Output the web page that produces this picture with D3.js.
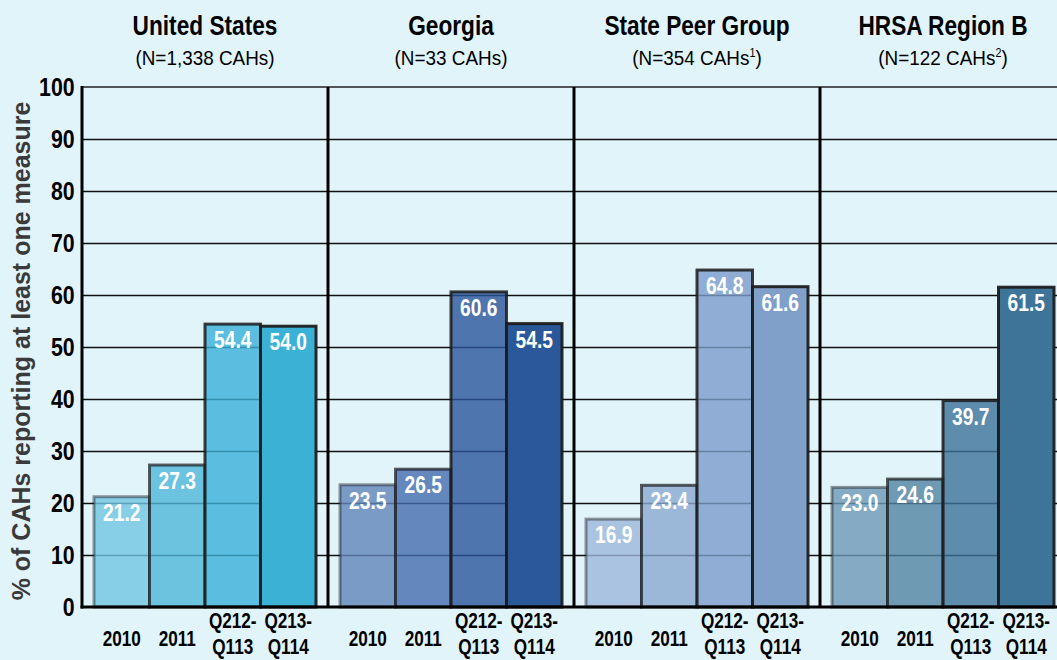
<!DOCTYPE html>
<html>
<head>
<meta charset="utf-8">
<script src="https://cdn.jsdelivr.net/npm/d3@7"></script>
<style>
  body { margin: 0; background: #e1f4fa; }
  svg { display: block; font-family: "Liberation Sans", Arial, sans-serif; }
</style>
</head>
<body>
<svg id="chart" width="1057" height="660"></svg>
<script>
// groups shown side by side
const groups = ["United States", "Georgia", "State Peer Group", "HRSA Region B"];
// subtitle pieces: text, superscript, closing
const groupNotes = [
	["(N=1,338 CAHs", "", ")"],
	["(N=33 CAHs", "", ")"],
	["(N=354 CAHs", "1", ")"],
	["(N=122 CAHs", "2", ")"]
];
const periods = ["2010", "2011", "Q212-Q113", "Q213-Q114"];
const periodLines = [["2010"], ["2011"], ["Q212-", "Q113"], ["Q213-", "Q114"]];

const usValues = [21.2, 27.3, 54.4, 54.0];
const georgiaValues = [23.5, 26.5, 60.6, 54.5];
const peerValues = [16.9, 23.4, 64.8, 61.6];
const regionBValues = [23.0, 24.6, 39.7, 61.5];

const usColors = ["#6fc6e1", "#4fb7d9", "#39afd8", "#3cb1d6"];
const georgiaColors = ["#6185ba", "#456cae", "#2b559b", "#2b5898"];
const peerColors = ["#9cb7da", "#8aa9d1", "#7c9ccc", "#809fc9"];
const regionBColors = ["#6e99b7", "#5183a3", "#3c729a", "#3f7499"];

const yTicks = [0, 10, 20, 30, 40, 50, 60, 70, 80, 90, 100];

const seriesValues = [usValues, georgiaValues, peerValues, regionBValues];
const seriesColors = [usColors, georgiaColors, peerColors, regionBColors];

const margin = { left: 82, top: 87, bottom: 607 };
const panelWidth = 246;

const svg = d3.select("#chart");

const y = d3.scaleLinear().domain([0, 100]).range([margin.bottom, margin.top]);
const x0 = d3.scaleBand().domain(groups).range([margin.left, margin.left + panelWidth * groups.length]);
const x1 = d3.scaleBand().domain(periods).range([12, panelWidth - 12]);

// condensed look: squeeze text horizontally
function squeezed(sel, x, yPos, sx) {
	return sel.append("text")
		.attr("transform", "translate(" + x + "," + yPos + ") scale(" + sx + ",1)");
}

// gridlines
svg.append("g")
	.attr("class", "grid")
	.attr("transform", "translate(" + margin.left + ",0)")
	.call(d3.axisLeft(y).tickValues(yTicks.slice(1, -1)).tickSize(-(1057 - margin.left)).tickFormat(""))
	.call(g => g.select(".domain").remove())
	.selectAll("line")
	.attr("stroke", "#111")
	.attr("stroke-width", 1.3);

// top line
svg.append("line")
	.attr("x1", margin.left).attr("x2", 1057)
	.attr("y1", y(100)).attr("y2", y(100))
	.attr("stroke", "#222").attr("stroke-width", 1.3);

// bars
const strokeOp = [0.45, 0.7, 0.85, 0.92];
const fillOp = [0.8, 0.8, 0.8, 1];

const panel = svg.selectAll("g.panel")
	.data(groups)
	.enter()
	.append("g")
	.attr("class", "panel")
	.attr("transform", d => "translate(" + x0(d) + ",0)");

panel.selectAll("rect.bar")
	.data((d, gi) => periods.map((p, i) => ({ period: p, i: i, value: seriesValues[gi][i], color: seriesColors[gi][i] })))
	.enter()
	.append("rect")
	.attr("class", "bar")
	.attr("x", d => x1(d.period))
	.attr("y", d => y(d.value))
	.attr("width", x1.bandwidth())
	.attr("height", d => y(0) - y(d.value))
	.attr("fill", d => d.color)
	.attr("fill-opacity", d => fillOp[d.i])
	.attr("stroke", "#1a1a1a")
	.attr("stroke-opacity", d => strokeOp[d.i])
	.attr("stroke-width", 3);

// value labels + x labels
panel.each(function (d, gi) {
	const g = d3.select(this);
	periods.forEach((p, i) => {
		const cx = x1(p) + x1.bandwidth() / 2;
		const v = seriesValues[gi][i];
		squeezed(g, cx, y(v) + 24, 0.8)
			.attr("text-anchor", "middle")
			.attr("fill", "#fff")
			.attr("font-weight", "bold")
			.attr("font-size", 24)
			.text(v.toFixed(1));

		const lines = periodLines[i];
		if (lines.length === 1) {
			squeezed(g, cx, 646, 0.78)
				.attr("text-anchor", "middle").attr("font-weight", "bold").attr("font-size", 22)
				.text(lines[0]);
		} else {
			lines.forEach((l, k) => {
				squeezed(g, cx, 628 + k * 26, 0.78)
					.attr("text-anchor", "middle").attr("font-weight", "bold").attr("font-size", 22)
					.text(l);
			});
		}
	});

	// titles
	squeezed(g, panelWidth / 2, 35, 0.84)
		.attr("text-anchor", "middle")
		.attr("font-weight", "bold")
		.attr("font-size", 27)
		.text(d);

	const note = groupNotes[gi];
	const t = squeezed(g, panelWidth / 2, 65, 0.9)
		.attr("text-anchor", "middle")
		.attr("font-size", 21);
	t.append("tspan").text(note[0]);
	if (note[1]) {
		t.append("tspan").attr("font-size", 12).attr("dy", -8).text(note[1]);
		t.append("tspan").attr("dy", 8).text(note[2]);
	} else {
		t.append("tspan").text(note[2]);
	}
});

// panel dividers
svg.selectAll("line.divider")
	.data(groups.slice(1))
	.enter()
	.append("line")
	.attr("class", "divider")
	.attr("x1", d => x0(d)).attr("x2", d => x0(d))
	.attr("y1", y(100)).attr("y2", y(0))
	.attr("stroke", "#000").attr("stroke-width", 3);

// y axis
const yAxis = svg.append("g")
	.attr("class", "y axis")
	.attr("transform", "translate(" + margin.left + ",0)")
	.call(d3.axisLeft(y).tickValues(yTicks).tickSize(0).tickPadding(9));
yAxis.select(".domain").remove();
yAxis.attr("font-family", null).attr("font-size", null);
yAxis.selectAll("text")
	.attr("transform", "scale(0.82,1)")
	.attr("font-size", 26)
	.attr("font-weight", "bold")
	.attr("fill", "#000");

svg.append("line")
	.attr("x1", margin.left).attr("x2", margin.left)
	.attr("y1", y(100) - 1).attr("y2", y(0) + 1.5)
	.attr("stroke", "#000").attr("stroke-width", 3);

svg.append("line")
	.attr("x1", margin.left - 1.5).attr("x2", 1057)
	.attr("y1", y(0)).attr("y2", y(0))
	.attr("stroke", "#000").attr("stroke-width", 3);

// y axis title
svg.append("text")
	.attr("transform", "translate(30," + ((y(0) + y(100)) / 2 + 4) + ") rotate(-90)")
	.attr("text-anchor", "middle")
	.attr("font-weight", "bold")
	.attr("font-size", 25)
	.attr("fill", "#3a3a3a")
	.text("% of CAHs reporting at least one measure");
</script>
</body>
</html>
